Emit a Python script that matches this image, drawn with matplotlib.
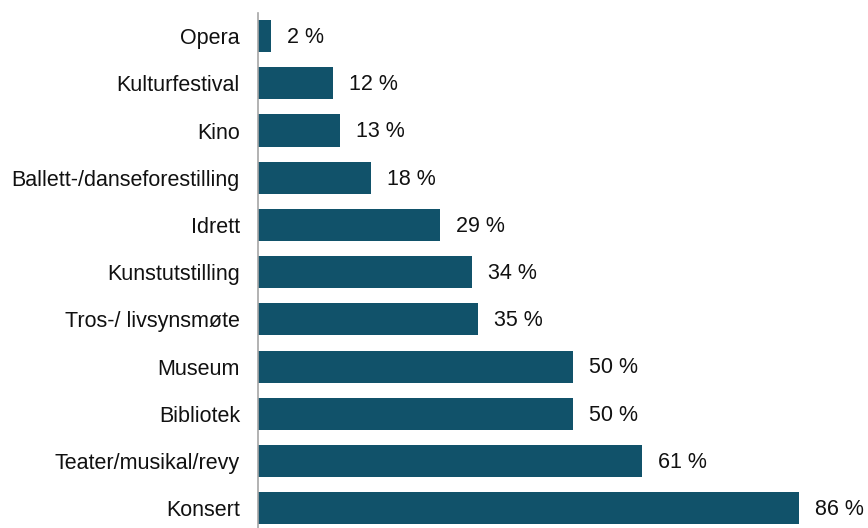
import matplotlib.pyplot as plt

categories = ["Konsert", "Teater/musikal/revy", "Bibliotek", "Museum",
              "Tros-/ livsynsmøte", "Kunstutstilling", "Idrett",
              "Ballett-/danseforestilling", "Kino", "Kulturfestival", "Opera"]
values = [86, 61, 50, 50, 35, 34, 29, 18, 13, 12, 2]

bar_color = "#11526a"

plt.rcParams['font.family'] = ['Liberation Sans', 'DejaVu Sans']

fig = plt.figure(figsize=(8.68, 5.28), dpi=100)
ax = fig.add_axes([258 / 868, 0, 1 - 258 / 868, 515 / 528])

ypos = list(range(len(categories)))
ax.barh(ypos, values, height=0.68, color=bar_color)

# value labels to the right of each bar
for y, v in zip(ypos, values):
    ax.annotate(f"{v} %", xy=(v, y), xytext=(11.5, -1), textcoords="offset points",
                va="center", ha="left", fontsize=15.5, color="#111111")

ax.set_yticks(ypos)
ax.set_yticklabels(categories, fontsize=15.5, color="#111111")
ax.tick_params(axis="y", length=0, pad=13)
ax.set_xticks([])
ax.set_xlim(0, (868 - 258) / (541 / 86))
ax.set_ylim(-0.42, len(categories) - 1 + 0.49)

for side in ["top", "right", "bottom"]:
    ax.spines[side].set_visible(False)
ax.spines["left"].set_color("#a6a6a6")
ax.spines["left"].set_linewidth(1.2)

fig.savefig("out.png", dpi=100)
